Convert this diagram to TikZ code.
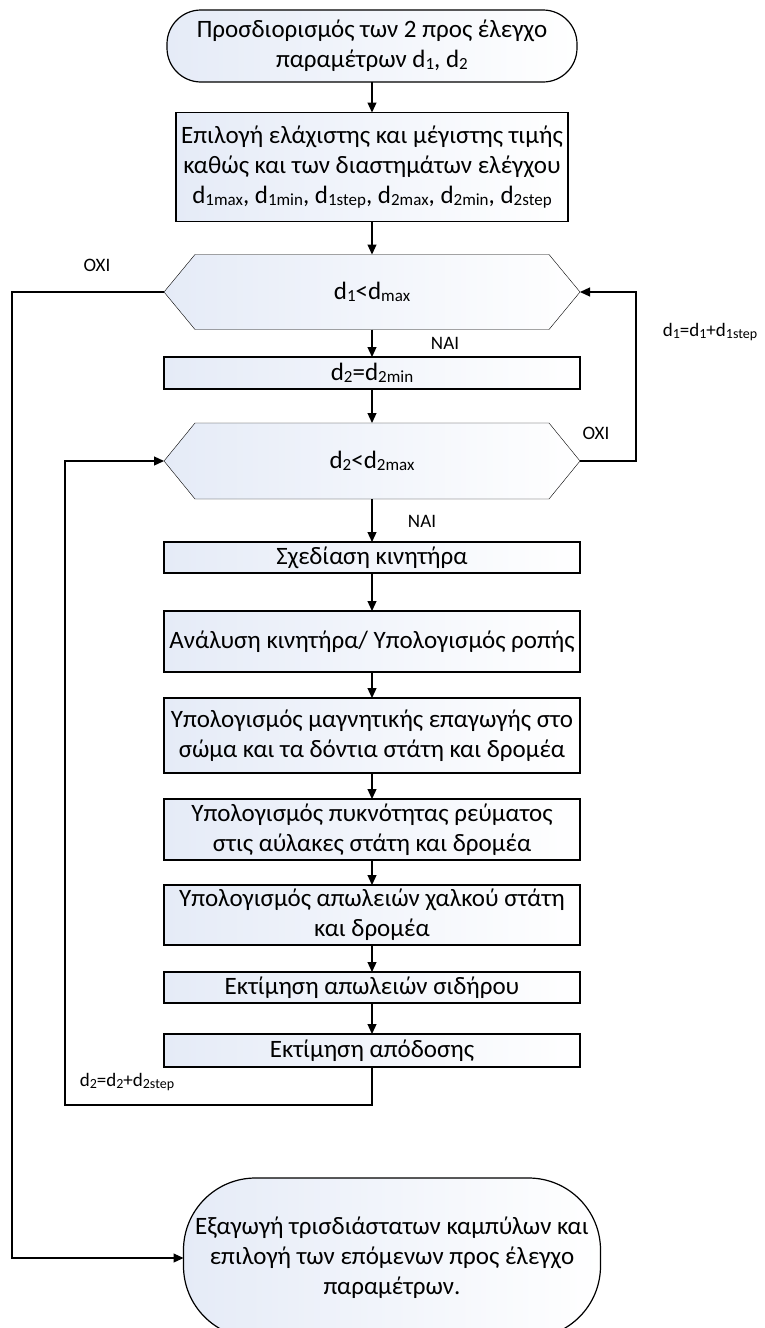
\documentclass[tikz,border=0pt]{standalone}
\usepackage{fontspec}
\setmainfont{Carlito}
\usetikzlibrary{arrows.meta,backgrounds}

\definecolor{fillblue}{RGB}{229,235,247}
% small lowered indices as in the drawing
\newcommand{\lo}[1]{\raisebox{-2pt}{\fontsize{17}{17}\selectfont #1}}
\newcommand{\los}[1]{\raisebox{-1.5pt}{\fontsize{14}{14}\selectfont #1}}

% hexagon outline behind a condition node
\newcommand{\hexframe}[1]{%
\begin{scope}[on background layer]
\draw[hexline] (#1.west) -- ([xshift=31pt]#1.north west) -- ([xshift=-31pt]#1.north east)
 -- (#1.east) -- ([xshift=-31pt]#1.south east) -- ([xshift=31pt]#1.south west) -- cycle;
\end{scope}}

\begin{document}
\begin{tikzpicture}[
x=1pt, y=1pt,
font=\fontsize{25}{30}\selectfont,
>={Triangle[length=10pt,width=9pt]},
line width=1.2pt,
every node/.style={outer sep=0pt, inner sep=2pt, align=center},
box/.style={draw, left color=fillblue, right color=white, minimum width=416pt},
term/.style={box, rounded corners=34pt},
cond/.style={minimum width=416pt, minimum height=76pt},
hexline/.style={draw, left color=fillblue, right color=white},
lbl/.style={font=\fontsize{19}{22}\selectfont}
]

\useasboundingbox (0,0) rectangle (765,-1328);

\node[term, minimum width=410pt, minimum height=72pt] (t1) at (372,-46)
{Προσδιορισμός των 2 προς έλεγχο\\παραμέτρων d\lo{1}, d\lo{2}};

\node[box, minimum width=392pt, minimum height=109pt] (b0) at (372,-167)
{Επιλογή ελάχιστης και μέγιστης τιμής\\καθώς και των διαστημάτων ελέγχου\\
d\lo{1max}, d\lo{1min}, d\lo{1step}, d\lo{2max}, d\lo{2min}, d\lo{2step}};

\node[cond, minimum height=75pt] (c1) at (372,-292)
{d\lo{1}<d\lo{max}};
\hexframe{c1}

\node[box, minimum height=32pt] (b1) at (372,-373)
{d\lo{2}=d\lo{2min}};

\node[cond] (c2) at (372,-461)
{d\lo{2}<d\lo{2max}};
\hexframe{c2}

\node[box, minimum height=31pt] (b2) at (372,-557.5)
{Σχεδίαση κινητήρα};

\node[box, minimum height=61pt] (b3) at (372,-641.5)
{Ανάλυση κινητήρα/ Υπολογισμός ροπής};

\node[box, minimum height=75pt] (b4) at (372,-735.5)
{Υπολογισμός μαγνητικής επαγωγής στο\\σώμα και τα δόντια στάτη και δρομέα};

\node[box, minimum height=61pt] (b5) at (372,-829.5)
{Υπολογισμός πυκνότητας ρεύματος\\στις αύλακες στάτη και δρομέα};

\node[box, minimum height=60pt] (b6) at (372,-915)
{Υπολογισμός απωλειών χαλκού στάτη\\και δρομέα};

\node[box, minimum height=31pt] (b7) at (372,-987.5)
{Εκτίμηση απωλειών σιδήρου};

\node[box, minimum height=33pt] (b8) at (372,-1050.5)
{Εκτίμηση απόδοσης};

\node[term, minimum width=417pt, minimum height=160pt, rounded corners=72pt] (t2) at (392,-1258)
{Εξαγωγή τρισδιάστατων καμπύλων και\\επιλογή των επόμενων προς έλεγχο\\παραμέτρων.};

% labels
\node[lbl] (no1) at (97,-265) {ΟΧΙ};
\node[lbl] (yes1) at (445,-343) {ΝΑΙ};
\node[lbl] (inc1) at (710,-332) {d\los{1}=d\los{1}+d\los{1step}};
\node[lbl] (no2) at (596,-433) {ΟΧΙ};
\node[lbl] (yes2) at (422,-521) {ΝΑΙ};
\node[lbl] (inc2) at (127,-1082) {d\los{2}=d\los{2}+d\los{2step}};

% corner points of the loops
\coordinate (L1) at (12,-292);
\coordinate (R1) at (636,-461);
\coordinate (L2) at (65,-1105);

\draw[->] (t1) -- (b0);
\draw[->] (b0) -- (c1);
\draw[->] (c1) -- (b1);
\draw[->] (b1) -- (c2);
\draw[->] (c2) -- (b2);
\draw[->] (b2) -- (b3);
\draw[->] (b3) -- (b4);
\draw[->] (b4) -- (b5);
\draw[->] (b5) -- (b6);
\draw[->] (b6) -- (b7);
\draw[->] (b7) -- (b8);

\draw[->] (c1.west) -- (L1) |- (t2.west);
\draw[->] (c2.east) -- (R1) |- (c1.east);
\draw[->] (b8.south) |- (L2) |- (c2.west);

\end{tikzpicture}
\end{document}
